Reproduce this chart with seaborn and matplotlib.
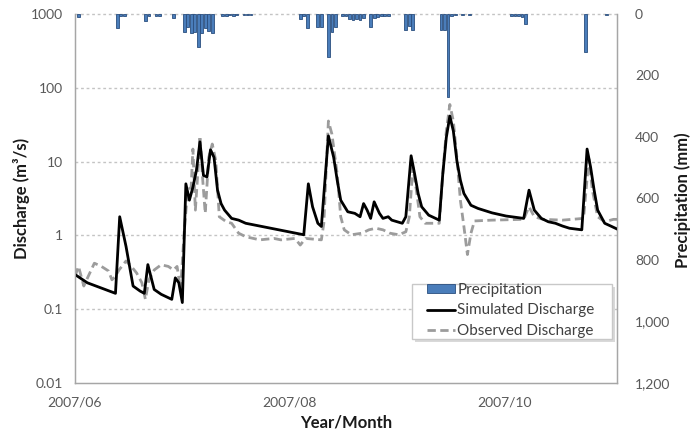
import numpy as np
import pandas as pd
import matplotlib
matplotlib.use("Agg")
import matplotlib.pyplot as plt
import matplotlib.dates as mdates
from matplotlib.patches import Rectangle
from matplotlib.ticker import FixedLocator, NullLocator
import seaborn as sns

# ---------------- data (day offsets from 2007-06-01) ----------------
precip_days = [1, 12, 13, 14, 20, 21, 23, 24, 28,
               31, 32, 33, 34, 35, 36, 37, 38, 39,
               42, 43, 44, 45, 46, 48, 49, 50,
               64, 65, 66, 69, 70, 72, 73, 74,
               76, 77, 78, 79, 80, 81, 82, 84, 85, 86, 87, 88, 89,
               94, 95, 96, 104, 105, 106, 107, 108, 110, 112,
               124, 125, 126, 127, 128, 145, 151]
precip_mm = [9, 47, 8, 6, 22, 8, 5, 5, 14,
             57, 42, 63, 57, 106, 61, 47, 56, 61,
             5, 5, 4, 5, 4, 4, 4, 4,
             17, 8, 47, 42, 42, 139, 60, 42,
             8, 8, 16, 18, 16, 18, 14, 41, 14, 10, 8, 8, 8,
             52, 40, 52, 52, 52, 269, 5, 4, 4, 4,
             6, 8, 6, 10, 33, 123, 3]

sim_days = [0, 3.5, 11.5, 12.7, 14.5, 16.5, 18.5, 19.7, 20.7, 22.5, 24.5, 27.5,
            28.5, 29.5, 30.5, 31.5, 32.5, 33.5, 34.5, 35.5, 36.5, 37.5, 38.5,
            39.5, 40.5, 41.5, 42.5, 44.5, 46.5, 48.5, 65, 66.3, 67.5, 69, 70,
            72, 73.5, 74.5, 75.5, 77.5, 79.5, 81, 82, 83, 84, 85, 86.5, 87.5,
            89, 90, 93, 94, 95.5, 96.5, 97.5, 98.5, 100.5, 103.5, 104.5, 105.5,
            106.5, 107.5, 108.5, 109.5, 110.5, 112.5, 114.5, 118.5, 122.5,
            127.5, 129, 130.5, 132.5, 134.5, 136.5, 138.5, 140.5, 144, 145.5,
            146.5, 147.5, 148.5, 150.5, 152.5, 154.5]
sim_q = [0.295, 0.228, 0.164, 1.79, 0.708, 0.206, 0.176, 0.164, 0.402, 0.185,
         0.159, 0.136, 0.266, 0.228, 0.123, 5.0, 3.0, 4.5, 7.6, 18.5, 6.5, 6.2,
         14.5, 11.4, 4.1, 2.7, 2.2, 1.70, 1.61, 1.46, 1.02, 5.0, 2.44, 1.46,
         1.32, 22.3, 11.4, 5.6, 3.0, 2.09, 1.99, 1.79, 2.7, 2.2, 1.70, 2.85,
         1.99, 1.70, 1.79, 1.61, 1.46, 1.79, 12.0, 6.8, 3.7, 2.44, 1.88, 1.61,
         6.8, 21.2, 41.4, 26.0, 10.3, 5.6, 3.7, 2.56, 2.32, 2.02, 1.83, 1.70,
         4.1, 2.2, 1.70, 1.53, 1.46, 1.34, 1.25, 1.19, 14.8, 8.4, 4.1, 2.2,
         1.46, 1.32, 1.19]

obs_days = [0, 1, 2.5, 4, 5.5, 7.5, 9.5, 10.5, 11.5, 12.5, 14.5, 16, 17.5, 19,
            20, 21, 22.5, 24.5, 26.5, 28, 29, 30, 31, 32, 33, 33.5, 34.2, 35,
            35.5, 36.3, 37, 38, 39, 40, 41, 43, 44.5, 46.5, 48.5, 52.5, 56.5,
            58.5, 62.5, 64, 65.5, 70, 70.7, 72, 73, 74.5, 75.5, 76.5, 78.5,
            81.5, 83.5, 85.5, 87.5, 89.5, 92, 94, 95, 96, 97, 98, 99.5, 103.5,
            104.5, 105.5, 106.5, 107.5, 108.5, 109.5, 110.5, 111.5, 112.5,
            113.5, 118.5, 127.5, 129, 130.5, 133, 138.5, 144.5, 146, 147,
            148.5, 150.5, 153, 155]
obs_q = [0.28, 0.38, 0.206, 0.295, 0.42, 0.38, 0.33, 0.25, 0.28, 0.34, 0.45,
         0.38, 0.31, 0.228, 0.136, 0.25, 0.34, 0.40, 0.38, 0.34, 0.38, 0.185,
         1.07, 4.1, 4.5, 14.8, 2.2, 8.4, 22.3, 5.6, 1.99, 11.4, 17.3, 10.3,
         1.79, 1.53, 1.46, 1.07, 0.96, 0.87, 0.91, 0.87, 0.91, 0.74, 0.91,
         0.87, 1.46, 35.5, 23.5, 6.8, 1.79, 1.19, 1.02, 1.07, 1.19, 1.25, 1.19,
         1.07, 1.02, 1.12, 1.79, 8.4, 4.1, 1.79, 1.46, 1.46, 6.8, 26.0, 59.4,
         35.5, 11.4, 3.0, 1.32, 0.55, 1.07, 1.57, 1.61, 1.65, 2.44, 1.79, 1.65,
         1.61, 1.70, 10.9, 4.1, 1.79, 1.53, 1.65, 1.65]

y_ticks = [0.01, 0.1, 1, 10, 100, 1000]
y_tick_labels = ["0.01", "0.1", "1", "10", "100", "1000"]
p_ticks = [0, 200, 400, 600, 800, 1000, 1200]
p_tick_labels = ["0", "200", "400", "600", "800", "1,000", "1,200"]
x_ticks = ["2007-06-01", "2007-08-01", "2007-10-01"]

base = pd.Timestamp("2007-06-01")
sim_df = pd.DataFrame({"date": base + pd.to_timedelta(sim_days, unit="D"), "q": sim_q})
obs_df = pd.DataFrame({"date": base + pd.to_timedelta(obs_days, unit="D"), "q": obs_q})
pr_dates = base + pd.to_timedelta(precip_days, unit="D")

# ---------------- figure ----------------
sns.set_style("white")
plt.rcParams["font.family"] = ["Lato", "DejaVu Sans"]

W, H = 699, 437
fig = plt.figure(figsize=(W / 100, H / 100), dpi=100)
L, R, T, B = 75, 617, 14, 383
ax = fig.add_axes([L / W, 1 - B / H, (R - L) / W, (B - T) / H])

grid_c = "#C4C4C4"
spine_c = "#A6A6A6"
tick_c = "#595959"

sns.lineplot(data=obs_df, x="date", y="q", ax=ax, color="#9C9C9C", lw=2.0,
             linestyle=(0, (3, 1.6)), sort=False, estimator=None,
             label="Observed Discharge", legend=False, zorder=3)
sns.lineplot(data=sim_df, x="date", y="q", ax=ax, color="black", lw=2.0,
             sort=False, estimator=None, label="Simulated Discharge",
             legend=False, zorder=4)

ax.set_yscale("log")
ax.set_ylim(0.01, 1000)
ax.yaxis.set_major_locator(FixedLocator(y_ticks))
ax.yaxis.set_minor_locator(NullLocator())
ax.set_yticklabels(y_tick_labels)
ax.set_xlim(base, base + pd.Timedelta(days=154))
ax.set_xticks(pd.to_datetime(x_ticks))
ax.xaxis.set_major_formatter(mdates.DateFormatter("%Y/%m"))
ax.set_xlabel("")
ax.set_ylabel("")

for yv in y_ticks[1:]:
    ax.axhline(yv, color=grid_c, lw=1.0, linestyle=(0, (2.0, 2.0)), zorder=1,
               clip_on=False)

for s in ["left", "bottom", "right"]:
    ax.spines[s].set_color(spine_c)
    ax.spines[s].set_linewidth(1.0)
ax.spines["top"].set_visible(False)

ax.tick_params(axis="y", length=0, pad=9, labelsize=10, labelcolor=tick_c)
ax.tick_params(axis="x", length=5, color=spine_c, pad=5, labelsize=10,
               labelcolor=tick_c)

# precipitation on inverted right axis
ax2 = ax.twinx()
bars = ax2.bar(pr_dates, precip_mm, width=0.8, color="#4A7DBA",
               edgecolor="#2A4E7E", linewidth=0.6, label="Precipitation",
               zorder=2)
ax2.set_ylim(1200, 0)
ax2.set_yticks(p_ticks)
ax2.set_yticklabels(p_tick_labels)
ax2.tick_params(axis="y", length=0, pad=13, labelsize=10, labelcolor=tick_c)
for s in ["left", "bottom", "right"]:
    ax2.spines[s].set_color(spine_c)
ax2.spines["top"].set_visible(False)
ax2.set_ylabel("")

# axis titles
lab_c = "#1A1A1A"
fig.text(22 / W, 1 - 198 / H, "Discharge (m³/s)", rotation=90, ha="center",
         va="center", fontsize=12, fontweight="bold", color=lab_c)
fig.text(683 / W, 1 - 200 / H, "Precipitation (mm)", rotation=90, ha="center",
         va="center", fontsize=12, fontweight="bold", color=lab_c)
fig.text(346 / W, 1 - 422 / H, "Year/Month", ha="center", va="center",
         fontsize=12, fontweight="bold", color=lab_c)

# legend frame (drawn manually, Excel-like with soft shadow)
bx0, by0, bx1, by1 = 412, 284, 612, 339
fig.patches.append(Rectangle((bx0 / W + 3 / W, 1 - by1 / H - 3 / H),
                             (bx1 - bx0) / W, (by1 - by0) / H,
                             transform=fig.transFigure, facecolor="#D9D9D9",
                             edgecolor="none", zorder=5))
fig.patches.append(Rectangle((bx0 / W, 1 - by1 / H), (bx1 - bx0) / W,
                             (by1 - by0) / H, transform=fig.transFigure,
                             facecolor="white", edgecolor="#C8C8C8", lw=1.0,
                             zorder=6))

h_sim = ax.get_lines()[1]
h_obs = ax.get_lines()[0]
leg = fig.legend([bars, h_sim, h_obs],
                 ["Precipitation", "Simulated Discharge", "Observed Discharge"],
                 loc="upper left", bbox_to_anchor=(427 / W, 1 - 283 / H),
                 bbox_transform=fig.transFigure, borderaxespad=0,
                 borderpad=0, frameon=False, fontsize=11,
                 handlelength=1.85, handleheight=0.5, handletextpad=0.13,
                 labelspacing=0.42)
leg.set_zorder(7)
for t in leg.get_texts():
    t.set_color("#404040")

fig.savefig("out.png", dpi=100)
